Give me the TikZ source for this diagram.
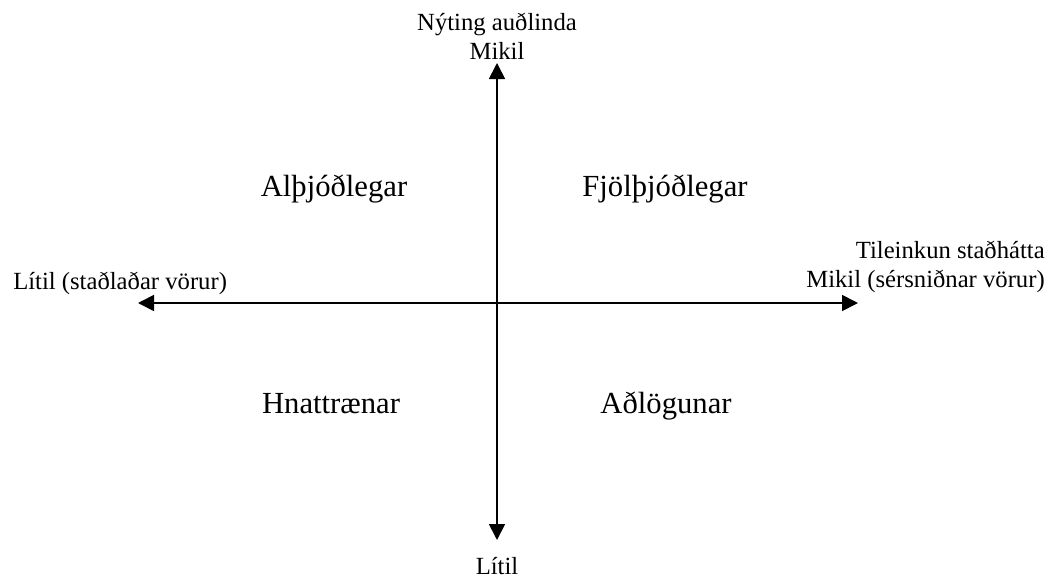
\documentclass[tikz,border=0pt]{standalone}
\usepackage{fontspec}
\setmainfont{Liberation Serif}
\usetikzlibrary{positioning, arrows.meta}

\begin{document}
\begin{tikzpicture}[
    x=0.75pt, y=-0.75pt,
    axis/.style = {draw, {Triangle[length=12pt, width=12pt]}-{Triangle[length=12pt, width=12pt]}, line width=1.3pt},
    axislabel/.style = {inner sep=0pt, font=\fontsize{18.5}{22}\selectfont},
    quadrant/.style = {inner sep=0pt, anchor=base, font=\fontsize{23}{27}\selectfont}
]
    \useasboundingbox (0,0) rectangle (1048,579);

    % Axis end points
    \coordinate (top) at (497,63);
    \coordinate (bottom) at (497,540);
    \coordinate (left) at (138,303);
    \coordinate (right) at (858,303);

    % Axes
    \draw [axis] (bottom) -- (top);
    \draw [axis] (left) -- (right);

    % Axis labels
    \node (ymax) [axislabel, align=center, anchor=south] at (497,60) {Nýting auðlinda\\Mikil};
    \node (ymin) [axislabel, anchor=base] at (497,574) {Lítil};
    \node (xmin) [axislabel, anchor=base west] at (13,289) {Lítil (staðlaðar vörur)};
    \node (xmax) [axislabel, align=right, anchor=south east] at (1045,293) {Tileinkun staðhátta\\Mikil (sérsniðnar vörur)};

    % Quadrants
    \node (q1) [quadrant] at (334,196) {Alþjóðlegar};
    \node (q2) [quadrant] at (665,196) {Fjölþjóðlegar};
    \node (q3) [quadrant] at (331,413) {Hnattrænar};
    \node (q4) [quadrant] at (666,413) {Aðlögunar};

\end{tikzpicture}
\end{document}
